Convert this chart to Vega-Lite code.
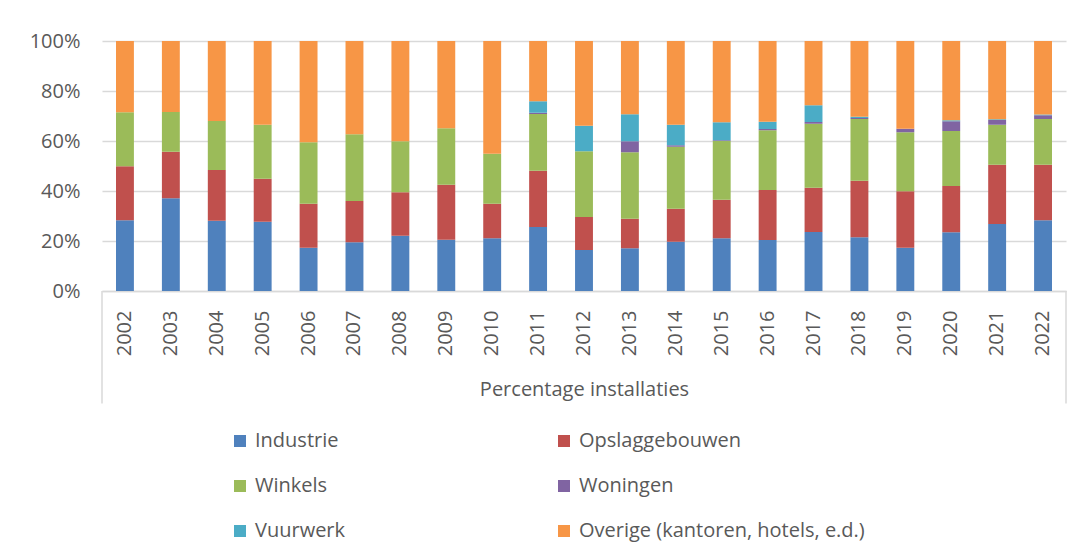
{
  "$schema": "https://vega.github.io/schema/vega-lite/v6.json",
  "width": 964,
  "height": 250,
  "autosize": {"type": "none"},
  "padding": {"left": 102, "top": 41, "right": 20, "bottom": 266},
  "background": "white",
  "config": {
    "font": "Open Sans",
    "view": {"stroke": null},
    "axis": {"labelColor": "#595959", "titleColor": "#595959", "labelFont": "Open Sans", "titleFont": "Open Sans"}
  },
  "data": {
    "values": [
      {"jaar": "2002", "Industrie": 28.3, "Opslaggebouwen": 21.6, "Winkels": 21.6, "Woningen": 0, "Vuurwerk": 0, "Overige": 28.5},
      {"jaar": "2003", "Industrie": 37.1, "Opslaggebouwen": 18.6, "Winkels": 15.9, "Woningen": 0, "Vuurwerk": 0, "Overige": 28.4},
      {"jaar": "2004", "Industrie": 28.1, "Opslaggebouwen": 20.3, "Winkels": 19.6, "Woningen": 0, "Vuurwerk": 0, "Overige": 32.0},
      {"jaar": "2005", "Industrie": 27.7, "Opslaggebouwen": 17.2, "Winkels": 21.6, "Woningen": 0, "Vuurwerk": 0, "Overige": 33.5},
      {"jaar": "2006", "Industrie": 17.3, "Opslaggebouwen": 17.6, "Winkels": 24.6, "Woningen": 0, "Vuurwerk": 0, "Overige": 40.5},
      {"jaar": "2007", "Industrie": 19.5, "Opslaggebouwen": 16.5, "Winkels": 26.7, "Woningen": 0, "Vuurwerk": 0, "Overige": 37.3},
      {"jaar": "2008", "Industrie": 22.1, "Opslaggebouwen": 17.4, "Winkels": 20.4, "Woningen": 0, "Vuurwerk": 0, "Overige": 40.1},
      {"jaar": "2009", "Industrie": 20.5, "Opslaggebouwen": 22.0, "Winkels": 22.6, "Woningen": 0, "Vuurwerk": 0, "Overige": 34.9},
      {"jaar": "2010", "Industrie": 21.1, "Opslaggebouwen": 13.8, "Winkels": 20.0, "Woningen": 0, "Vuurwerk": 0, "Overige": 45.1},
      {"jaar": "2011", "Industrie": 25.6, "Opslaggebouwen": 22.5, "Winkels": 22.7, "Woningen": 0.5, "Vuurwerk": 4.6, "Overige": 24.1},
      {"jaar": "2012", "Industrie": 16.4, "Opslaggebouwen": 13.2, "Winkels": 26.3, "Woningen": 0, "Vuurwerk": 10.2, "Overige": 33.9},
      {"jaar": "2013", "Industrie": 17.1, "Opslaggebouwen": 11.8, "Winkels": 26.6, "Woningen": 4.4, "Vuurwerk": 10.8, "Overige": 29.3},
      {"jaar": "2014", "Industrie": 19.7, "Opslaggebouwen": 13.2, "Winkels": 24.8, "Woningen": 0.6, "Vuurwerk": 8.2, "Overige": 33.5},
      {"jaar": "2015", "Industrie": 21.1, "Opslaggebouwen": 15.4, "Winkels": 23.5, "Woningen": 0.3, "Vuurwerk": 7.2, "Overige": 32.5},
      {"jaar": "2016", "Industrie": 20.4, "Opslaggebouwen": 20.0, "Winkels": 23.9, "Woningen": 0.5, "Vuurwerk": 2.9, "Overige": 32.3},
      {"jaar": "2017", "Industrie": 23.6, "Opslaggebouwen": 17.7, "Winkels": 25.6, "Woningen": 0.7, "Vuurwerk": 6.7, "Overige": 25.7},
      {"jaar": "2018", "Industrie": 21.5, "Opslaggebouwen": 22.6, "Winkels": 24.7, "Woningen": 0.4, "Vuurwerk": 0.5, "Overige": 30.3},
      {"jaar": "2019", "Industrie": 17.3, "Opslaggebouwen": 22.6, "Winkels": 23.6, "Woningen": 1.4, "Vuurwerk": 0, "Overige": 35.1},
      {"jaar": "2020", "Industrie": 23.5, "Opslaggebouwen": 18.5, "Winkels": 22.0, "Woningen": 3.9, "Vuurwerk": 0.4, "Overige": 31.7},
      {"jaar": "2021", "Industrie": 26.8, "Opslaggebouwen": 23.7, "Winkels": 16.0, "Woningen": 1.9, "Vuurwerk": 0.3, "Overige": 31.3},
      {"jaar": "2022", "Industrie": 28.3, "Opslaggebouwen": 22.2, "Winkels": 18.3, "Woningen": 1.5, "Vuurwerk": 0.3, "Overige": 29.4}
    ]
  },
  "layer": [
    {
      "transform": [
        {"fold": ["Industrie", "Opslaggebouwen", "Winkels", "Woningen", "Vuurwerk", "Overige"], "as": ["categorie", "pct"]},
        {"calculate": "indexof(['Industrie','Opslaggebouwen','Winkels','Woningen','Vuurwerk','Overige'], datum.categorie)", "as": "volgorde"}
      ],
      "mark": {"type": "bar"},
      "encoding": {
        "x": {
          "field": "jaar", "type": "ordinal",
          "scale": {"paddingInner": 0.61, "paddingOuter": 0.305},
          "axis": {
            "title": "Percentage installaties",
            "titleFontSize": 20, "titleFontWeight": "normal", "titlePadding": 24,
            "labelAngle": -90, "labelFontSize": 20, "labelPadding": 19,
            "ticks": false, "domainColor": "#d9d9d9", "domainWidth": 1.5
          }
        },
        "y": {
          "field": "pct", "type": "quantitative", "stack": "normalize",
          "scale": {"domain": [0, 1]},
          "axis": {
            "title": null, "format": ".0%", "values": [0, 0.2, 0.4, 0.6, 0.8, 1],
            "labelFontSize": 20, "labelPadding": 22,
            "domain": false, "ticks": false,
            "gridColor": "#d9d9d9", "gridWidth": 1.5
          }
        },
        "color": {
          "field": "categorie", "type": "nominal",
          "scale": {
            "domain": ["Industrie", "Winkels", "Vuurwerk", "Opslaggebouwen", "Woningen", "Overige"],
            "range": ["#4f81bd", "#9bbb59", "#4bacc6", "#c0504d", "#8064a2", "#f79646"]
          },
          "legend": {
            "title": null, "orient": "none", "legendX": 128, "legendY": 390, "padding": 0,
            "columns": 2, "columnPadding": 208, "rowPadding": 25,
            "symbolType": "square", "symbolSize": 144, "symbolStrokeWidth": 0,
            "labelFontSize": 20, "labelColor": "#595959", "labelFont": "Open Sans", "labelOffset": 5, "labelLimit": 400,
            "labelExpr": "datum.label == 'Overige' ? 'Overige (kantoren, hotels, e.d.)' : datum.label"
          }
        },
        "order": {"field": "volgorde", "type": "quantitative"}
      }
    },
    {
      "data": {"values": [{}]},
      "mark": {"type": "rule", "color": "#d9d9d9", "strokeWidth": 1.5},
      "encoding": {
        "x": {"datum": "2002", "type": "ordinal", "bandPosition": -0.782},
        "y": {"datum": 0, "type": "quantitative"},
        "y2": {"datum": -0.45}
      }
    },
    {
      "data": {"values": [{}]},
      "mark": {"type": "rule", "color": "#d9d9d9", "strokeWidth": 1.5},
      "encoding": {
        "x": {"datum": "2022", "type": "ordinal", "bandPosition": 1.782},
        "y": {"datum": 0, "type": "quantitative"},
        "y2": {"datum": -0.45}
      }
    }
  ]
}
